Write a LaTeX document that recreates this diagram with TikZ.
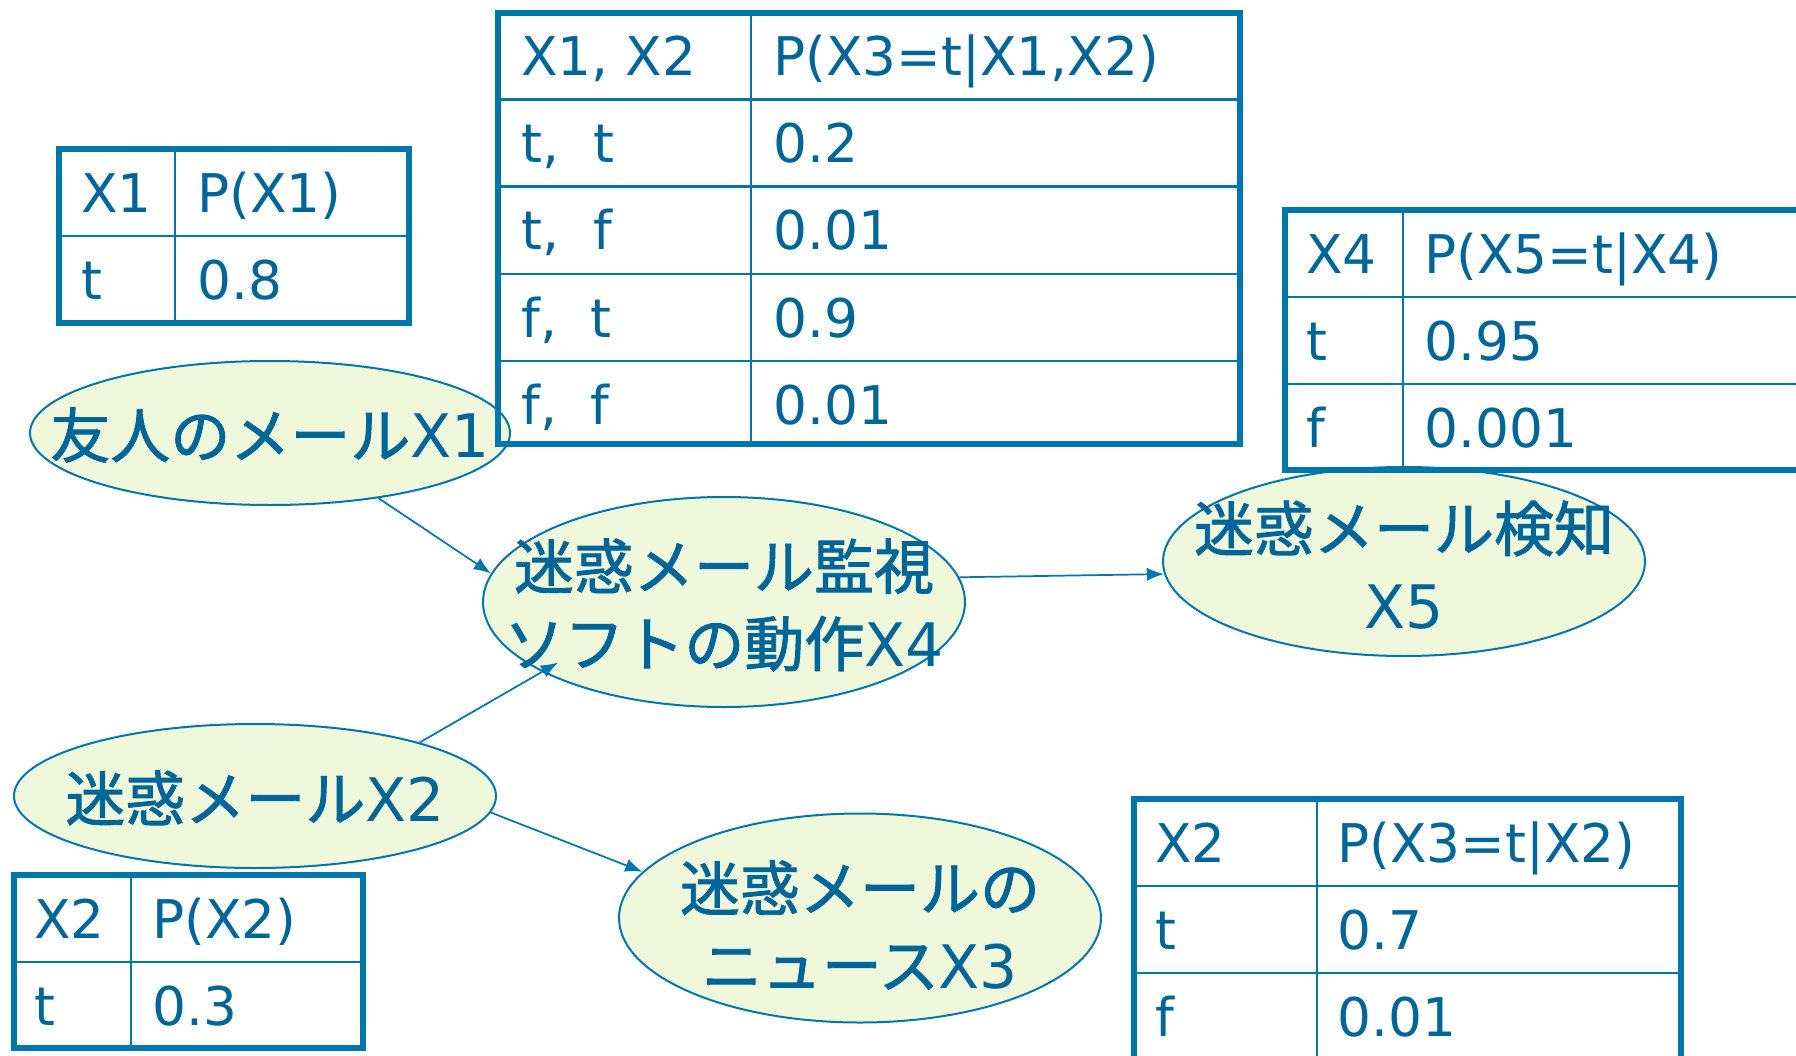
\documentclass[tikz,border=0pt]{standalone}
\usepackage{fontspec}
\setmainfont{DejaVu Sans}
\newfontfamily\jp[FakeBold=1.5]{Noto Sans CJK JP}
\usetikzlibrary{shapes.geometric,arrows.meta}
\definecolor{txt}{RGB}{0,102,153}
\definecolor{ln}{RGB}{0,119,170}
\definecolor{efill}{RGB}{239,248,218}
\tikzset{
 bnode/.style={ellipse, draw=ln, line width=1.5pt, fill=efill, inner sep=0pt},
 etext/.style={text=txt, font=\fontsize{45}{58}\selectfont, align=center, inner sep=0pt},
 tt/.style={text=txt, font=\fontsize{40}{48}\selectfont, anchor=base west, inner sep=0pt},
 outerline/.style={draw=ln, line width=4.5pt},
 innerline/.style={draw=ln, line width=2pt},
 arr/.style={draw=ln, line width=1.3pt, -{Latex[length=13pt,width=10pt]}},
}
\begin{document}
\begin{tikzpicture}[x=0.75pt,y=-0.75pt]
\useasboundingbox (0,0) rectangle (1796,1056);
\clip (0,0) rectangle (1796,1056);
% ellipses
\node[bnode, minimum width=360pt, minimum height=108pt] (x1) at (270,433) {};
\node[bnode, minimum width=361.5pt, minimum height=157.5pt] (x4) at (724,602) {};
\node[bnode, minimum width=361.5pt, minimum height=141.75pt] (x5) at (1404,561.5) {};
\node[bnode, minimum width=361.5pt, minimum height=108pt] (x2) at (255,796) {};
\node[bnode, minimum width=361.5pt, minimum height=156.75pt] (x3) at (860,918) {};
% ellipse texts
\node[etext] (x1t) at (270,435) {{\jp 友人のメール}X1};
\node[etext] (x4t) at (724,605) {{\jp 迷惑メール監視}\\{\jp ソフトの動作}X4};
\node[etext] (x5t) at (1404,565) {{\jp 迷惑メール検知}\\X5};
\node[etext] (x2t) at (255,798) {{\jp 迷惑メール}X2};
\node[etext] (x3t) at (860,925) {{\jp 迷惑メールの}\\{\jp ニュース}X3};
% arrows
\draw[arr] (x1.-31) -- (x4.173);
\draw[arr, shorten >=-14pt] (x2.18.6) -- (x4.201);
\draw[arr] (x4.6.8) -- (x5.183.4);
\draw[arr] (x2.-4.6) -- (x3.168.9);
% table P(X1)
\draw[innerline] (175,149) -- (175,323);
\draw[innerline] (59,236) -- (409,236);
\draw[outerline] (59,149) rectangle (409,323);
\node[tt] (t1a) at (81,212) {X1};
\node[tt] (t1b) at (197,212) {P(X1)};
\node[tt] (t1c) at (81,299) {t};
\node[tt] (t1d) at (197,299) {0.8};
% table P(X3|X1,X2)
\draw[innerline] (751,12.6) -- (751,444);
\foreach \yy in {99.5,186.7,274,361} \draw[innerline] (498,\yy) -- (1240,\yy);
\draw[outerline] (498,12.6) rectangle (1240,444);
\node[tt] (t3a) at (521,75.6) {X1, X2};
\node[tt] (t3b) at (773,75.6) {P(X3=t|X1,X2)};
\node[tt] (t3c) at (521,162.5) {t, \ t};
\node[tt] (t3d) at (773,162.5) {0.2};
\node[tt] (t3e) at (521,249.7) {t, \ f};
\node[tt] (t3f) at (773,249.7) {0.01};
\node[tt] (t3g) at (521,337) {f, \ t};
\node[tt] (t3h) at (773,337) {0.9};
\node[tt] (t3i) at (521,424) {f, \ f};
\node[tt] (t3j) at (773,424) {0.01};
% table P(X5|X4)
\draw[innerline] (1403,210) -- (1403,470);
\foreach \yy in {297,384} \draw[innerline] (1285,\yy) -- (1850,\yy);
\draw[outerline] (1285,210) rectangle (1850,470);
\node[tt] (t4a) at (1306,273) {X4};
\node[tt] (t4b) at (1424,273) {P(X5=t|X4)};
\node[tt] (t4c) at (1306,360) {t};
\node[tt] (t4d) at (1424,360) {0.95};
\node[tt] (t4e) at (1306,447) {f};
\node[tt] (t4f) at (1424,447) {0.001};
% table P(X2)
\draw[innerline] (131,875) -- (131,1048);
\draw[innerline] (14,962) -- (363,962);
\draw[outerline] (14,875) rectangle (363,1048);
\node[tt] (t2a) at (34,938) {X2};
\node[tt] (t2b) at (152,938) {P(X2)};
\node[tt] (t2c) at (34,1025) {t};
\node[tt] (t2d) at (152,1025) {0.3};
% table P(X3|X2)
\draw[innerline] (1317,799) -- (1317,1062);
\foreach \yy in {886,973} \draw[innerline] (1134,\yy) -- (1681,\yy);
\draw[outerline] (1134,799) rectangle (1681,1062);
\node[tt] (t5a) at (1155,862) {X2};
\node[tt] (t5b) at (1337,862) {P(X3=t|X2)};
\node[tt] (t5c) at (1155,949) {t};
\node[tt] (t5d) at (1337,949) {0.7};
\node[tt] (t5e) at (1155,1036) {f};
\node[tt] (t5f) at (1337,1036) {0.01};
\end{tikzpicture}
\end{document}
